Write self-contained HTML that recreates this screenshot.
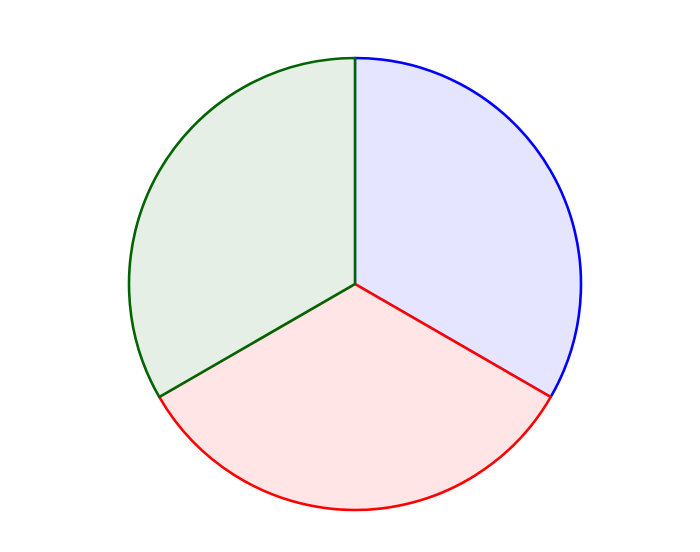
<!DOCTYPE html>
<html>
<head>
<meta charset="utf-8">
<style>
  html, body { margin: 0; padding: 0; background: #ffffff; }
  svg { display: block; }
</style>
</head>
<body>
<svg id="chart" width="700" height="552" viewBox="0 0 700 552"></svg>
<script>
const categories = ["blue-slice", "red-slice", "green-slice"];
const values = [1, 1, 1];
const strokeColors = ["#0000ff", "#ff0000", "#006400"];
const fillColors = ["#e5e5ff", "#ffe5e5", "#e5efe5"];

const svg = document.getElementById('chart');
const NS = 'http://www.w3.org/2000/svg';
const cx = 355, cy = 284, r = 226;
const total = values.reduce((a, b) => a + b, 0);

// start at top (90deg), go clockwise
let angle = Math.PI / 2;
function pt(a) { return [cx + r * Math.cos(a), cy - r * Math.sin(a)]; }

values.forEach((v, i) => {
  const sweep = v / total * 2 * Math.PI;
  const a0 = angle, a1 = angle - sweep;
  const [x0, y0] = pt(a0), [x1, y1] = pt(a1);
  const large = sweep > Math.PI ? 1 : 0;
  const p = document.createElementNS(NS, 'path');
  p.setAttribute('d', `M${cx},${cy} L${x0},${y0} A${r},${r} 0 ${large} 1 ${x1},${y1} Z`);
  p.setAttribute('fill', fillColors[i]);
  p.setAttribute('stroke', strokeColors[i]);
  p.setAttribute('stroke-width', '2.6');
  p.setAttribute('stroke-linejoin', 'round');
  
  
  svg.appendChild(p);
  angle = a1;
});
</script>
</body>
</html>
